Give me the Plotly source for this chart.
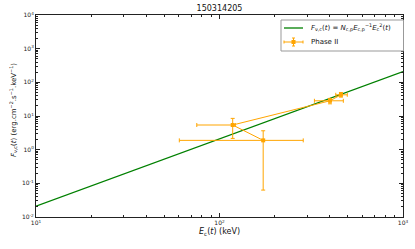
import plotly.graph_objects as go

# Phase II data points (in plotting order)
E = [173, 118, 400, 459]
E_low = [60.4, 75.2, 329, 430]
E_high = [286, 122, 473, 497]
F = [1.89, 5.4, 28.3, 42.6]
F_low = [0.063, 2.16, 23.0, 36.4]
F_high = [3.64, 8.5, 33.3, 50.0]

# model line endpoints
E_line = [10, 1000]
F_line = [0.021, 210]

x_ticks = [10, 100, 1000]
x_ticktext = ["10<sup>1</sup>", "10<sup>2</sup>", "10<sup>3</sup>"]
y_ticks = [1e-2, 1e-1, 1e0, 1e1, 1e2, 1e3, 1e4]
y_ticktext = ["10<sup>-2</sup>", "10<sup>-1</sup>", "10<sup>0</sup>", "10<sup>1</sup>",
              "10<sup>2</sup>", "10<sup>3</sup>", "10<sup>4</sup>"]
x_minor = [m * 10 ** d for d in (1, 2) for m in range(2, 10)]
y_minor = [m * 10.0 ** d for d in range(-2, 4) for m in range(2, 10)]

LINE_NAME = ("<i>F</i><sub>ν,c</sub>(<i>t</i>) = <i>N</i><sub>c,p</sub><i>E</i>"
             "<sub>c,p</sub><sup>−1</sup><i>E</i><sub>c</sub><sup>2</sup>(<i>t</i>)")
PTS_NAME = "Phase II"

FONT = "DejaVu Sans"
GREEN = "#008000"
ORANGE = "#FFA500"

W, H = 415, 249
L, R, T, B = 36, 12, 15, 32
PW, PH = W - L - R, H - T - B


def px(x):
    return (x - L) / PW


def py(y):
    return (H - B - y) / PH


fig = go.Figure()
fig.add_trace(go.Scatter(
    x=E_line, y=F_line, mode="lines",
    line=dict(color=GREEN, width=1.3), name=LINE_NAME, showlegend=False,
))
fig.add_trace(go.Scatter(
    x=E, y=F, mode="lines+markers",
    line=dict(color=ORANGE, width=1),
    marker=dict(symbol="square", size=4, color=ORANGE),
    error_x=dict(type="data", symmetric=False,
                 array=[h - v for h, v in zip(E_high, E)],
                 arrayminus=[v - l for v, l in zip(E, E_low)],
                 color=ORANGE, thickness=1, width=2),
    error_y=dict(type="data", symmetric=False,
                 array=[h - v for h, v in zip(F_high, F)],
                 arrayminus=[v - l for v, l in zip(F, F_low)],
                 color=ORANGE, thickness=1, width=2),
    name=PTS_NAME, showlegend=False,
))

axis_common = dict(
    showline=True, linecolor="#222", linewidth=1, mirror="allticks",
    ticks="inside", ticklen=4, tickcolor="#222",
    showgrid=False, zeroline=False, automargin=False,
    tickfont=dict(family=FONT, size=6, color="#222"),
)

fig.update_xaxes(type="log", range=[1, 3], tickmode="array", tickvals=x_ticks, ticktext=x_ticktext,
                 minor=dict(tickmode="array", tickvals=x_minor, ticks="inside", ticklen=2,
                            tickcolor="#222", showgrid=False),
                 **axis_common)
fig.update_yaxes(type="log", range=[-2, 4], tickmode="array", tickvals=y_ticks, ticktext=y_ticktext,
                 minor=dict(tickmode="array", tickvals=y_minor, ticks="inside", ticklen=2,
                            tickcolor="#222", showgrid=False),
                 **axis_common)

annotations = [
    dict(text="<i>E</i><sub>c</sub>(<i>t</i>) (keV)", x=0.5, y=py(232),
         xref="paper", yref="paper", xanchor="center", yanchor="middle",
         showarrow=False, font=dict(family=FONT, size=8, color="#111")),
    dict(text="<i>F</i><sub>ν,c</sub>(<i>t</i>) (erg.cm<sup>−2</sup>.s<sup>−1</sup>.keV<sup>−1</sup>)",
         x=px(13), y=py(110), textangle=-90,
         xref="paper", yref="paper", xanchor="center", yanchor="middle",
         showarrow=False, font=dict(family=FONT, size=7, color="#111")),
    # legend texts
    dict(text=LINE_NAME, x=px(309), y=py(28), xref="paper", yref="paper",
         xanchor="left", yanchor="middle", showarrow=False,
         font=dict(family=FONT, size=7, color="#111")),
    dict(text=PTS_NAME, x=px(309), y=py(42), xref="paper", yref="paper",
         xanchor="left", yanchor="middle", showarrow=False,
         font=dict(family=FONT, size=7, color="#111")),
]

shapes = [
    # legend frame
    dict(type="rect", xref="paper", yref="paper", x0=px(281), x1=px(403.5), y0=py(51), y1=py(20),
         line=dict(color="#999", width=1), fillcolor="white", layer="above"),
    # green sample
    dict(type="line", xref="paper", yref="paper", x0=px(284), x1=px(303), y0=py(28), y1=py(28),
         line=dict(color=GREEN, width=1.3), layer="above"),
    # orange sample line
    dict(type="line", xref="paper", yref="paper", x0=px(284), x1=px(303), y0=py(42), y1=py(42),
         line=dict(color=ORANGE, width=1), layer="above"),
    # orange sample error bar (vertical)
    dict(type="line", xref="paper", yref="paper", x0=px(293.5), x1=px(293.5), y0=py(38), y1=py(46),
         line=dict(color=ORANGE, width=1), layer="above"),
    # orange sample marker
    dict(type="rect", xref="paper", yref="paper", x0=px(291.5), x1=px(295.5), y0=py(44), y1=py(40),
         line=dict(color=ORANGE, width=0), fillcolor=ORANGE, layer="above"),
]
# caps
for cx in (284, 303):
    shapes.append(dict(type="line", xref="paper", yref="paper", x0=px(cx), x1=px(cx),
                       y0=py(40.5), y1=py(43.5), line=dict(color=ORANGE, width=1), layer="above"))
for cy in (38, 46):
    shapes.append(dict(type="line", xref="paper", yref="paper", x0=px(292), x1=px(295),
                       y0=py(cy), y1=py(cy), line=dict(color=ORANGE, width=1), layer="above"))

fig.update_layout(
    width=W, height=H,
    margin=dict(l=L, r=R, t=T, b=B),
    paper_bgcolor="white", plot_bgcolor="white",
    title=dict(text="150314205", x=0.5, xref="paper", y=1 - 8 / H, yref="container",
               yanchor="middle",
               font=dict(family=FONT, size=8, color="#111")),
    annotations=annotations, shapes=shapes,
    showlegend=False,
)

fig.write_html("out.html",
               config={"displayModeBar": False},
               post_script="document.body.style.margin='0px';document.body.style.padding='0px';")
